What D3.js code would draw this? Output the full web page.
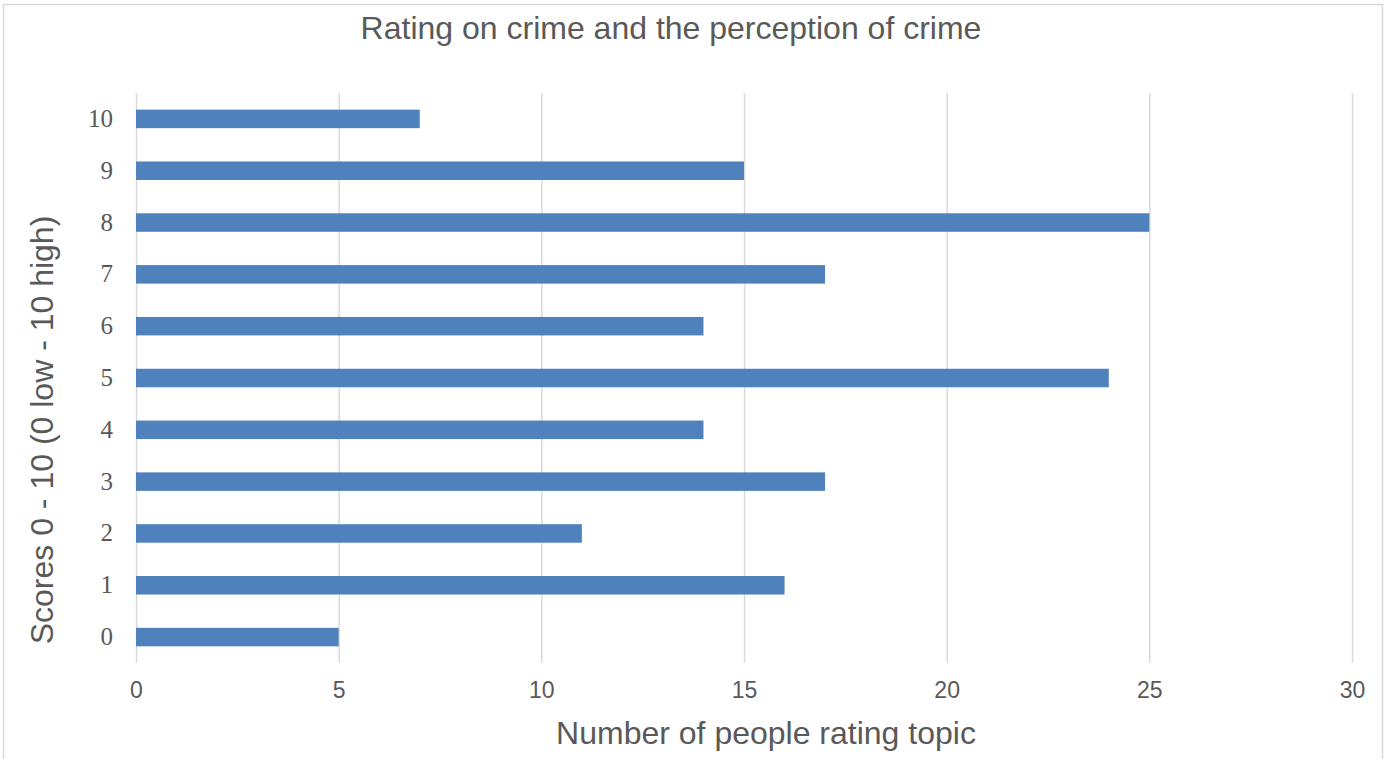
<!DOCTYPE html>
<html>
<head>
<meta charset="utf-8">
<script src="https://cdn.jsdelivr.net/npm/d3@7/dist/d3.min.js"></script>
<style>
  html, body { margin: 0; padding: 0; background: #ffffff; }
  svg { display: block; }
</style>
</head>
<body>
<svg id="chart" width="1390" height="759"></svg>
<script>
// Scores given (0 = low, 10 = high) and how many people gave each score
const scores = ["0", "1", "2", "3", "4", "5", "6", "7", "8", "9", "10"];
const counts = [5, 16, 11, 17, 14, 24, 14, 17, 25, 15, 7];
const xTicks = [0, 5, 10, 15, 20, 25, 30];

const chartTitle = "Rating on crime and the perception of crime";
const xTitle = "Number of people rating topic";
const yTitle = "Scores 0 - 10 (0 low - 10 high)";

const W = 1390, H = 759;
const plot = { left: 136, right: 1352, top: 93, bottom: 663 };
const textColor = "#595959";
const gridColor = "#d9d9d9";
const barColor = "#4f81bd";
const sans = "'Liberation Sans', Arial, sans-serif";

const svg = d3.select("#chart");

// outer chart frame
svg.append("rect")
  .attr("x", 3.5).attr("y", 4.5)
  .attr("width", 1379).attr("height", H + 10)
  .attr("fill", "#ffffff")
  .attr("stroke", gridColor)
  .attr("stroke-width", 1.5);

const x = d3.scaleLinear().domain([0, 30]).range([plot.left, plot.right]);
const y = d3.scaleBand()
  .domain(scores.slice().reverse())
  .range([plot.top, plot.bottom])
  .paddingInner(0.643)
  .paddingOuter(0.3215);

// vertical gridlines + bottom tick labels
const xAxis = d3.axisBottom(x)
  .tickValues(xTicks)
  .tickSize(-(plot.bottom - plot.top))
  .tickPadding(19);

const gx = svg.append("g")
  .attr("transform", `translate(0,${plot.bottom})`)
  .call(xAxis);
gx.select(".domain").remove();
gx.selectAll(".tick line")
  .attr("stroke", gridColor)
  .attr("stroke-width", 1.5);
gx.selectAll(".tick text")
  .attr("fill", textColor)
  .attr("font-family", sans)
  .attr("font-size", 23);

// score labels on the left
const yAxis = d3.axisLeft(y).tickSize(0).tickPadding(23);
const gy = svg.append("g")
  .attr("transform", `translate(${plot.left},0)`)
  .call(yAxis);
gy.select(".domain").remove();
gy.selectAll(".tick text")
  .attr("fill", textColor)
  .attr("font-family", "'Liberation Serif', 'DejaVu Serif', serif")
  .attr("font-size", 25);

// bars
const data = scores.map((s, i) => ({ score: s, count: counts[i] }));
svg.append("g")
  .selectAll("rect")
  .data(data)
  .join("rect")
  .attr("x", x(0))
  .attr("y", d => y(d.score))
  .attr("width", d => x(d.count) - x(0))
  .attr("height", y.bandwidth())
  .attr("fill", barColor);

// title
svg.append("text")
  .attr("x", 671).attr("y", 39)
  .attr("text-anchor", "middle")
  .attr("fill", textColor)
  .attr("font-family", sans)
  .attr("font-size", 32)
  .text(chartTitle);

// axis titles
svg.append("text")
  .attr("x", 766).attr("y", 744)
  .attr("text-anchor", "middle")
  .attr("fill", textColor)
  .attr("font-family", sans)
  .attr("font-size", 32)
  .text(xTitle);

svg.append("text")
  .attr("transform", "translate(53,430) rotate(-90)")
  .attr("text-anchor", "middle")
  .attr("fill", textColor)
  .attr("font-family", sans)
  .attr("font-size", 32)
  .text(yTitle);
</script>
</body>
</html>
